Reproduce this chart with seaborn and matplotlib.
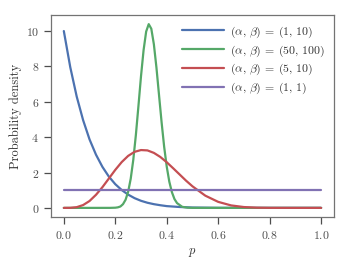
import matplotlib
matplotlib.use("Agg")
import matplotlib.pyplot as plt
import seaborn as sns

# values
blue_x = [0.0, 0.025, 0.05, 0.075, 0.1, 0.125, 0.15, 0.175, 0.2, 0.225, 0.25,
          0.275, 0.3, 0.325, 0.35, 0.375, 0.4, 0.45, 0.5, 0.6, 0.7, 0.8, 0.9, 1.0]
blue_y = [10.0, 7.96, 6.30, 4.96, 3.87, 3.01, 2.32, 1.77, 1.34, 1.01, 0.75,
          0.55, 0.40, 0.29, 0.21, 0.15, 0.10, 0.05, 0.02, 0.003, 0.0, 0.0, 0.0, 0.0]

green_x = [0.0, 0.1, 0.18, 0.2, 0.21, 0.22, 0.23, 0.24, 0.25, 0.26, 0.27, 0.28,
           0.29, 0.3, 0.31, 0.32, 0.33, 0.34, 0.35, 0.36, 0.37, 0.38, 0.39,
           0.4, 0.41, 0.42, 0.43, 0.44, 0.46, 0.48, 0.5, 0.6, 0.8, 1.0]
green_y = [0.0, 0.0, 0.001, 0.01, 0.03, 0.08, 0.21, 0.46, 0.91, 1.65, 2.72, 4.12,
           5.76, 7.45, 8.92, 9.97, 10.39, 10.13, 9.25, 7.93, 6.38, 4.84, 3.45,
           2.33, 1.48, 0.89, 0.50, 0.27, 0.06, 0.013, 0.002, 0.0, 0.0, 0.0]

red_x = [0.0, 0.025, 0.05, 0.075, 0.1, 0.125, 0.15, 0.175, 0.2, 0.225, 0.25,
         0.275, 0.3, 0.325, 0.35, 0.375, 0.4, 0.425, 0.45, 0.475, 0.5, 0.55,
         0.6, 0.65, 0.7, 0.75, 0.8, 0.9, 1.0]
red_y = [0.0, 0.003, 0.04, 0.16, 0.39, 0.74, 1.17, 1.66, 2.15, 2.59, 2.94,
         3.17, 3.27, 3.25, 3.11, 2.88, 2.58, 2.24, 1.89, 1.54, 1.22, 0.69,
         0.34, 0.14, 0.047, 0.012, 0.002, 0.0, 0.0]

purple_x = [0.0, 1.0]
purple_y = [1.0, 1.0]

labels = [r"$(\alpha,\, \beta) \:=\: (1,\, 10)$", r"$(\alpha,\, \beta) \:=\: (50,\, 100)$",
          r"$(\alpha,\, \beta) \:=\: (5,\, 10)$", r"$(\alpha,\, \beta) \:=\: (1,\, 1)$"]

sns.set_theme(style="ticks", palette="deep")
plt.rcParams["font.family"] = "serif"
plt.rcParams["font.serif"] = ["cmr10", "DejaVu Serif"]
plt.rcParams["mathtext.fontset"] = "cm"
plt.rcParams["axes.formatter.use_mathtext"] = True
plt.rcParams["font.size"] = 8.5
plt.rcParams["text.color"] = "0.2"
plt.rcParams["axes.labelcolor"] = "0.2"

fig, ax = plt.subplots(figsize=(3.49, 2.67), dpi=100)
series = [(blue_x, blue_y), (green_x, green_y), (red_x, red_y), (purple_x, purple_y)]
colors = sns.color_palette("deep")
for (xs, ys), lab, c in zip(series, labels, [colors[0], colors[2], colors[3], colors[4]]):
    sns.lineplot(x=xs, y=ys, ax=ax, label=lab, color=c, linewidth=1.6)

ax.set_xticks([0.0, 0.2, 0.4, 0.6, 0.8, 1.0])
ax.set_yticks([0, 2, 4, 6, 8, 10])
ax.tick_params(labelsize=8.5, colors="0.3", width=0.9, length=5)
for sp in ax.spines.values():
    sp.set_color("0.45")
    sp.set_linewidth(0.9)
ax.set_xlabel(r"$p$", fontsize=9)
ax.set_ylabel("Probability density", fontsize=9, labelpad=3)
ax.legend(loc="upper right", frameon=False, fontsize=8.5, handlelength=3.5,
          handletextpad=0.5, borderaxespad=0.4, labelspacing=0.3)

fig.subplots_adjust(left=0.146, right=0.957, top=0.944, bottom=0.187)
fig.savefig("out.png", dpi=100)
